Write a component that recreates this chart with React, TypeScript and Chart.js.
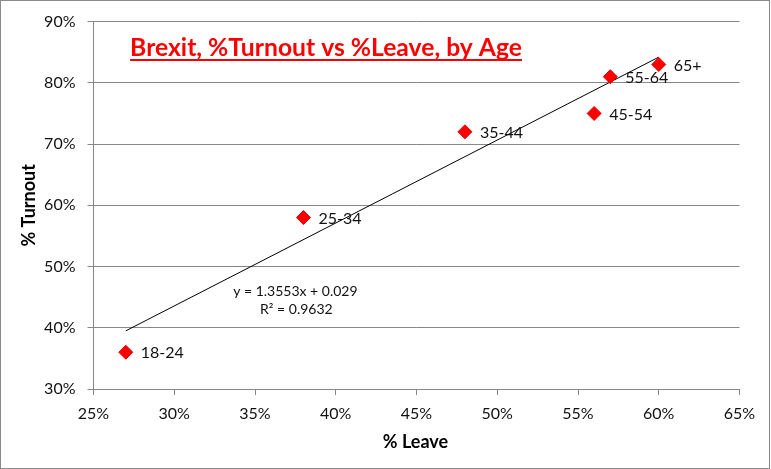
import React, { useEffect, useRef } from "react";
import { Chart, registerables } from "chart.js";

Chart.register(...registerables);

const ageGroups = ["18-24", "25-34", "35-44", "45-54", "55-64", "65+"];
const leavePct = [27, 38, 48, 56, 57, 60];
const turnoutPct = [36, 58, 72, 75, 81, 83];
const trendX = [27, 60];
const trendY = [39.5, 84.2];
const equationLines = ["y = 1.3553x + 0.029", "R² = 0.9632"];
const chartTitle = "Brexit, %Turnout vs %Leave, by Age";
const xTitle = "% Leave";
const yTitle = "% Turnout";

const FONT = "Lato, 'Open Sans', sans-serif";
const GRID = "#878787";

const overlayPlugin = {
  id: "overlay",
  afterDatasetsDraw(chart: any) {
    const ctx = chart.ctx as CanvasRenderingContext2D;
    const { chartArea } = chart;
    const xs = chart.scales.x;
    const ys = chart.scales.y;
    ctx.save();

    // data labels
    const meta = chart.getDatasetMeta(0);
    ctx.fillStyle = "#111";
    ctx.font = `16px ${FONT}`;
    ctx.textAlign = "left";
    ctx.textBaseline = "middle";
    meta.data.forEach((pt: any, i: number) => {
      ctx.fillText(ageGroups[i], pt.x + 15, pt.y + 1);
    });

    // equation
    ctx.font = `14px ${FONT}`;
    ctx.textAlign = "center";
    const ex = xs.getPixelForValue(37.5);
    const ey = ys.getPixelForValue(46);
    ctx.fillText(equationLines[0], ex, ey);
    ctx.fillText(equationLines[1], ex + 1, ey + 18);

    // title
    ctx.font = `bold 24.7px ${FONT}`;
    ctx.fillStyle = "#ff0000";
    ctx.textBaseline = "alphabetic";
    const tx = chartArea.left + chartArea.width * 0.36;
    const ty = 56;
    ctx.fillText(chartTitle, tx, ty);
    const w = ctx.measureText(chartTitle).width;
    ctx.strokeStyle = "#ff0000";
    ctx.lineWidth = 2;
    ctx.beginPath();
    ctx.moveTo(tx - w / 2, ty + 4);
    ctx.lineTo(tx + w / 2, ty + 4);
    ctx.stroke();

    // axis titles
    ctx.fillStyle = "#000";
    ctx.font = `bold 18px ${FONT}`;
    ctx.textBaseline = "middle";
    ctx.fillText(xTitle, (chartArea.left + chartArea.right) / 2 - 1, 442);
    ctx.translate(29, (chartArea.top + chartArea.bottom) / 2);
    ctx.rotate(-Math.PI / 2);
    ctx.fillText(yTitle, 0, 0);
    ctx.restore();
  },
};

export default function App() {
  const ref = useRef<HTMLCanvasElement>(null);
  useEffect(() => {
    document.body.style.margin = "0";
    const chart = new Chart(ref.current!, {
      type: "scatter",
      data: {
        datasets: [
          {
            label: "Turnout",
            data: leavePct.map((x, i) => ({ x, y: turnoutPct[i] })),
            pointStyle: "rectRot",
            pointRadius: 7,
            pointHoverRadius: 7,
            backgroundColor: "#ff0000",
            borderColor: "#e00000",
            borderWidth: 1,
            order: 1,
          },
          {
            label: "Trend",
            type: "line",
            data: trendX.map((x, i) => ({ x, y: trendY[i] })),
            showLine: true,
            borderColor: "#000",
            borderWidth: 1,
            pointRadius: 0,
            fill: false,
            order: 2,
          } as any,
        ],
      },
      options: {
        animation: false,
        responsive: false,
        maintainAspectRatio: false,
        events: [],
        layout: { padding: { top: 18.5, right: 30.5, left: 0, bottom: 0 } },
        plugins: { legend: { display: false }, tooltip: { enabled: false } },
        scales: {
          x: {
            type: "linear",
            min: 25,
            max: 65,
            afterFit: (s: any) => {
              s.height = 80;
            },
            ticks: {
              stepSize: 5,
              padding: 9,
              color: "#111",
              font: { family: FONT, size: 16 },
              callback: (v: any) => v + "%",
            },
            grid: { drawOnChartArea: false, drawTicks: true, tickLength: 6, color: GRID },
            border: { color: GRID, width: 1 },
          },
          y: {
            type: "linear",
            min: 30,
            max: 90,
            afterFit: (s: any) => {
              s.width = 93.5;
            },
            ticks: {
              stepSize: 10,
              padding: 12,
              color: "#111",
              font: { family: FONT, size: 16 },
              callback: (v: any) => v + "%",
            },
            grid: { drawOnChartArea: true, drawTicks: true, tickLength: 6, color: GRID },
            border: { color: GRID, width: 1 },
          },
        },
      },
      plugins: [overlayPlugin],
    });
    return () => chart.destroy();
  }, []);
  return (
    <div style={{ position: "relative", width: 770, height: 469, background: "#fff" }}>
      <canvas ref={ref} width={770} height={469} style={{ position: "absolute", left: 0, top: 0 }} />
      <div
        style={{
          position: "absolute",
          left: 0,
          top: 0,
          width: 770,
          height: 469,
          boxSizing: "border-box",
          border: "1px solid #8a8a8a",
          pointerEvents: "none",
        }}
      />
    </div>
  );
}
